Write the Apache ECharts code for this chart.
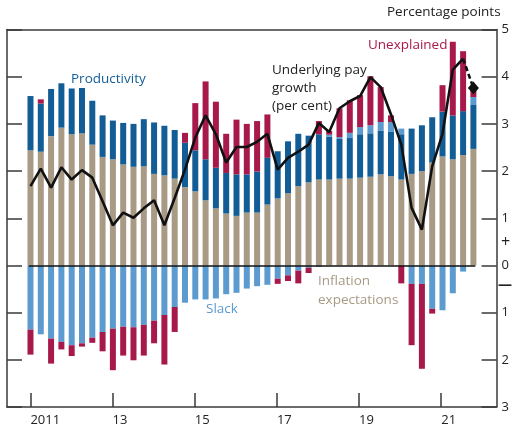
<!DOCTYPE html>
<html>
<head>
<meta charset="utf-8">
<script src="https://cdn.jsdelivr.net/npm/echarts@6/dist/echarts.min.js"></script>
<style>
  html, body { margin: 0; padding: 0; background: #fff; }
  #chart { width: 512px; height: 430px; }
</style>
</head>
<body>
<div id="chart"></div>
<script>
// Quarterly contributions to underlying pay growth, 2011 Q1 - 2021 Q4 (percentage points)
const quarters = [
  '2011 Q1','2011 Q2','2011 Q3','2011 Q4','2012 Q1','2012 Q2','2012 Q3','2012 Q4',
  '2013 Q1','2013 Q2','2013 Q3','2013 Q4','2014 Q1','2014 Q2','2014 Q3','2014 Q4',
  '2015 Q1','2015 Q2','2015 Q3','2015 Q4','2016 Q1','2016 Q2','2016 Q3','2016 Q4',
  '2017 Q1','2017 Q2','2017 Q3','2017 Q4','2018 Q1','2018 Q2','2018 Q3','2018 Q4',
  '2019 Q1','2019 Q2','2019 Q3','2019 Q4','2020 Q1','2020 Q2','2020 Q3','2020 Q4',
  '2021 Q1','2021 Q2','2021 Q3','2021 Q4'
];

const inflationExpectations = [
  2.44, 2.41, 2.74, 2.92, 2.78, 2.80, 2.56, 2.30, 2.25, 2.14, 2.09, 2.10,
  1.94, 1.91, 1.84, 1.66, 1.57, 1.38, 1.21, 1.10, 1.05, 1.12, 1.12, 1.29,
  1.42, 1.53, 1.68, 1.76, 1.82, 1.82, 1.84, 1.84, 1.86, 1.88, 1.93, 1.89,
  1.82, 1.94, 2.00, 2.18, 2.31, 2.25, 2.34, 2.47
];

const productivity = [
  1.15, 1.02, 1.00, 0.94, 0.97, 0.96, 0.93, 0.88, 0.82, 0.88, 0.91, 1.00,
  1.09, 1.05, 1.03, 0.94, 0.87, 0.87, 0.86, 0.86, 0.88, 0.81, 0.87, 0.99,
  1.00, 1.10, 1.11, 0.99, 0.96, 0.91, 0.84, 0.86, 0.92, 0.92, 0.93, 0.94,
  0.96, 0.96, 0.97, 0.96, 0.95, 0.93, 0.93, 0.93
];

const slack = [
  -1.36, -1.46, -1.55, -1.62, -1.69, -1.65, -1.53, -1.41, -1.34, -1.30, -1.31, -1.26,
  -1.17, -1.05, -0.88, -0.79, -0.72, -0.72, -0.70, -0.61, -0.58, -0.49, -0.44, -0.41,
  -0.28, -0.21, -0.11, -0.05, -0.03, 0.04, 0.04, 0.11, 0.15, 0.17, 0.18, 0.21,
  0.12, -0.39, -0.39, -0.92, -0.95, -0.59, -0.13, 0.17
];

const unexplained = [
  -0.53, 0.09, -0.53, -0.16, -0.23, -0.07, -0.11, -0.41, -0.88, -0.61, -0.70, -0.65,
  -0.48, -1.05, -0.53, 0.21, 1.00, 1.65, 1.40, 0.83, 1.16, 1.07, 1.07, 0.92,
  -0.11, -0.12, -0.27, -0.11, 0.28, 0.08, 0.61, 0.69, 0.68, 1.04, 0.74, 0.14,
  -0.38, -1.30, -1.80, -0.10, 0.56, 1.56, 1.27, 0.15
];

// Underlying pay growth (per cent); the last quarter is a projection
const payGrowth = [
  1.68, 2.05, 1.65, 2.08, 1.82, 2.02, 1.86, 1.36, 0.85, 1.12, 1.01, 1.21,
  1.38, 0.85, 1.43, 2.03, 2.71, 3.18, 2.78, 2.18, 2.51, 2.51, 2.62, 2.79,
  2.03, 2.28, 2.41, 2.56, 3.02, 2.83, 3.33, 3.48, 3.59, 3.99, 3.78, 3.20,
  2.56, 1.22, 0.76, 2.10, 2.79, 4.15, 4.38, 3.76
];

const xTickYears = [2011, 2013, 2015, 2017, 2019, 2021];
const xTickLabels = ['2011', '13', '15', '17', '19', '21'];

const COLORS = {
  inflation: '#a89a84',
  productivity: '#135d97',
  slack: '#5b9bcf',
  unexplained: '#a8194b',
  line: '#111111',
  axis: '#3a3a3a',
  text: '#222222'
};
const FONT = '"Open Sans", "Noto Sans", sans-serif';

// Layout: the frame grid carries the year axis; the data grid holds one band per quarter
const FRAME = { left: 7, right: 14, top: 29.5, bottom: 23 };
const YEAR_MIN = 2010.43, YEAR_MAX = 2022.347;
const pxPerYear = (512 - FRAME.left - FRAME.right) / (YEAR_MAX - YEAR_MIN);
const bandPx = pxPerYear / 4;
const dataLeft = FRAME.left + (2011 - YEAR_MIN) * pxPerYear - bandPx / 2;
const dataRight = 512 - dataLeft - bandPx * quarters.length;

const lastIdx = payGrowth.length - 1;
const solidLine = payGrowth.map((v, i) => (i < lastIdx ? v : '-'));
const dashedLine = payGrowth.map((v, i) => (i >= lastIdx - 1 ? v : '-'));

const axisLineStyle = { color: COLORS.axis, width: 1.5 };

function barSeries(name, values, color) {
  return {
    name: name,
    type: 'bar',
    stack: 'contrib',
    barWidth: 6,
    xAxisIndex: 2,
    yAxisIndex: 2,
    data: values,
    itemStyle: { color: color },
    emphasis: { disabled: true },
    silent: true
  };
}

const hiddenValueY = {
  type: 'value', min: -3, max: 5, interval: 1, show: false, splitLine: { show: false }
};

const chart = echarts.init(document.getElementById('chart'), null, { renderer: 'canvas' });

chart.setOption({
  animation: false,
  backgroundColor: '#ffffff',
  textStyle: { fontFamily: FONT },
  grid: [
    { left: FRAME.left, right: FRAME.right, top: FRAME.top, bottom: FRAME.bottom, containLabel: false },
    { left: dataLeft, right: dataRight, top: FRAME.top, bottom: FRAME.bottom, containLabel: false }
  ],
  xAxis: [
    {
      gridIndex: 0,
      type: 'value',
      min: YEAR_MIN,
      max: YEAR_MAX,
      axisLine: { show: true, onZero: false, lineStyle: axisLineStyle },
      axisTick: {
        show: true, inside: true, length: 14,
        customValues: xTickYears,
        lineStyle: axisLineStyle
      },
      axisLabel: {
        show: true,
        customValues: xTickYears,
        formatter: v => xTickLabels[xTickYears.indexOf(Math.round(v))],
        align: 'left',
        margin: 7,
        fontSize: 13,
        color: COLORS.text,
        fontFamily: FONT
      },
      splitLine: { show: false }
    },
    {
      gridIndex: 0,
      type: 'value',
      position: 'top',
      min: YEAR_MIN,
      max: YEAR_MAX,
      axisLine: { show: true, onZero: false, lineStyle: axisLineStyle },
      axisTick: { show: false },
      axisLabel: { show: false },
      splitLine: { show: false }
    },
    {
      gridIndex: 1,
      type: 'category',
      data: quarters,
      boundaryGap: true,
      show: false
    }
  ],
  yAxis: [
    {
      gridIndex: 0,
      type: 'value',
      position: 'right',
      min: -3,
      max: 5,
      interval: 1,
      axisLine: { show: true, onZero: false, lineStyle: axisLineStyle },
      axisTick: { show: true, inside: true, length: 15, lineStyle: axisLineStyle },
      axisLabel: {
        formatter: v => String(Math.abs(v)),
        margin: 5,
        fontSize: 13,
        color: COLORS.text,
        fontFamily: FONT
      },
      splitLine: { show: false }
    },
    {
      gridIndex: 0,
      type: 'value',
      position: 'left',
      min: -3,
      max: 5,
      interval: 1,
      axisLine: { show: true, onZero: false, lineStyle: axisLineStyle },
      axisTick: { show: true, inside: true, length: 15, lineStyle: axisLineStyle },
      axisLabel: { show: false },
      splitLine: { show: false }
    },
    Object.assign({ gridIndex: 1 }, hiddenValueY)
  ],
  series: [
    barSeries('Inflation expectations', inflationExpectations, COLORS.inflation),
    barSeries('Productivity', productivity, COLORS.productivity),
    barSeries('Slack', slack, COLORS.slack),
    barSeries('Unexplained', unexplained, COLORS.unexplained),
    {
      // zero line across the span of the bars
      name: 'zero',
      type: 'line',
      xAxisIndex: 0,
      yAxisIndex: 0,
      data: [],
      silent: true,
      z: 4,
      markLine: {
        silent: true,
        symbol: 'none',
        label: { show: false },
        lineStyle: { color: '#111', width: 1.5, type: 'solid' },
        data: [[{ coord: [2010.96, 0] }, { coord: [2021.83, 0] }]]
      }
    },
    {
      name: 'Underlying pay growth',
      type: 'line',
      xAxisIndex: 2,
      yAxisIndex: 2,
      data: solidLine,
      showSymbol: false,
      symbol: 'none',
      lineStyle: { color: COLORS.line, width: 2.6 },
      z: 5,
      silent: true
    },
    {
      name: 'Underlying pay growth (projection)',
      type: 'line',
      xAxisIndex: 2,
      yAxisIndex: 2,
      data: dashedLine,
      showSymbol: true,
      showAllSymbol: true,
      symbol: (val, params) => (params.dataIndex === lastIdx ? 'diamond' : 'none'),
      symbolSize: [11, 13],
      itemStyle: { color: COLORS.line, borderWidth: 0 },
      lineStyle: { color: COLORS.line, width: 2.6, type: [5, 3] },
      z: 6,
      silent: true
    }
  ],
  graphic: [
    { type: 'text', left: 387, top: 5,
      style: { text: 'Percentage points', fill: COLORS.text, font: '13.5px ' + FONT } },
    { type: 'text', left: 71, top: 72,
      style: { text: 'Productivity', fill: COLORS.productivity, font: '13.5px ' + FONT } },
    { type: 'text', left: 368, top: 38,
      style: { text: 'Unexplained', fill: COLORS.unexplained, font: '13.5px ' + FONT } },
    { type: 'text', left: 272, top: 61,
      style: { text: 'Underlying pay\ngrowth\n(per cent)', fill: COLORS.text,
               font: '13.5px ' + FONT, lineHeight: 18 } },
    { type: 'text', left: 206, top: 302,
      style: { text: 'Slack', fill: COLORS.slack, font: '13.5px ' + FONT } },
    { type: 'text', left: 318, top: 272,
      style: { text: 'Inflation\nexpectations', fill: COLORS.inflation,
               font: '13.5px ' + FONT, lineHeight: 19 } },
    { type: 'text', left: 501, top: 234,
      style: { text: '+', fill: COLORS.text, font: '16px ' + FONT } },
    { type: 'text', left: 498, top: 278,
      style: { text: '\u2014', fill: COLORS.text, font: 'bold 14px ' + FONT } }
  ]
});
</script>
</body>
</html>
